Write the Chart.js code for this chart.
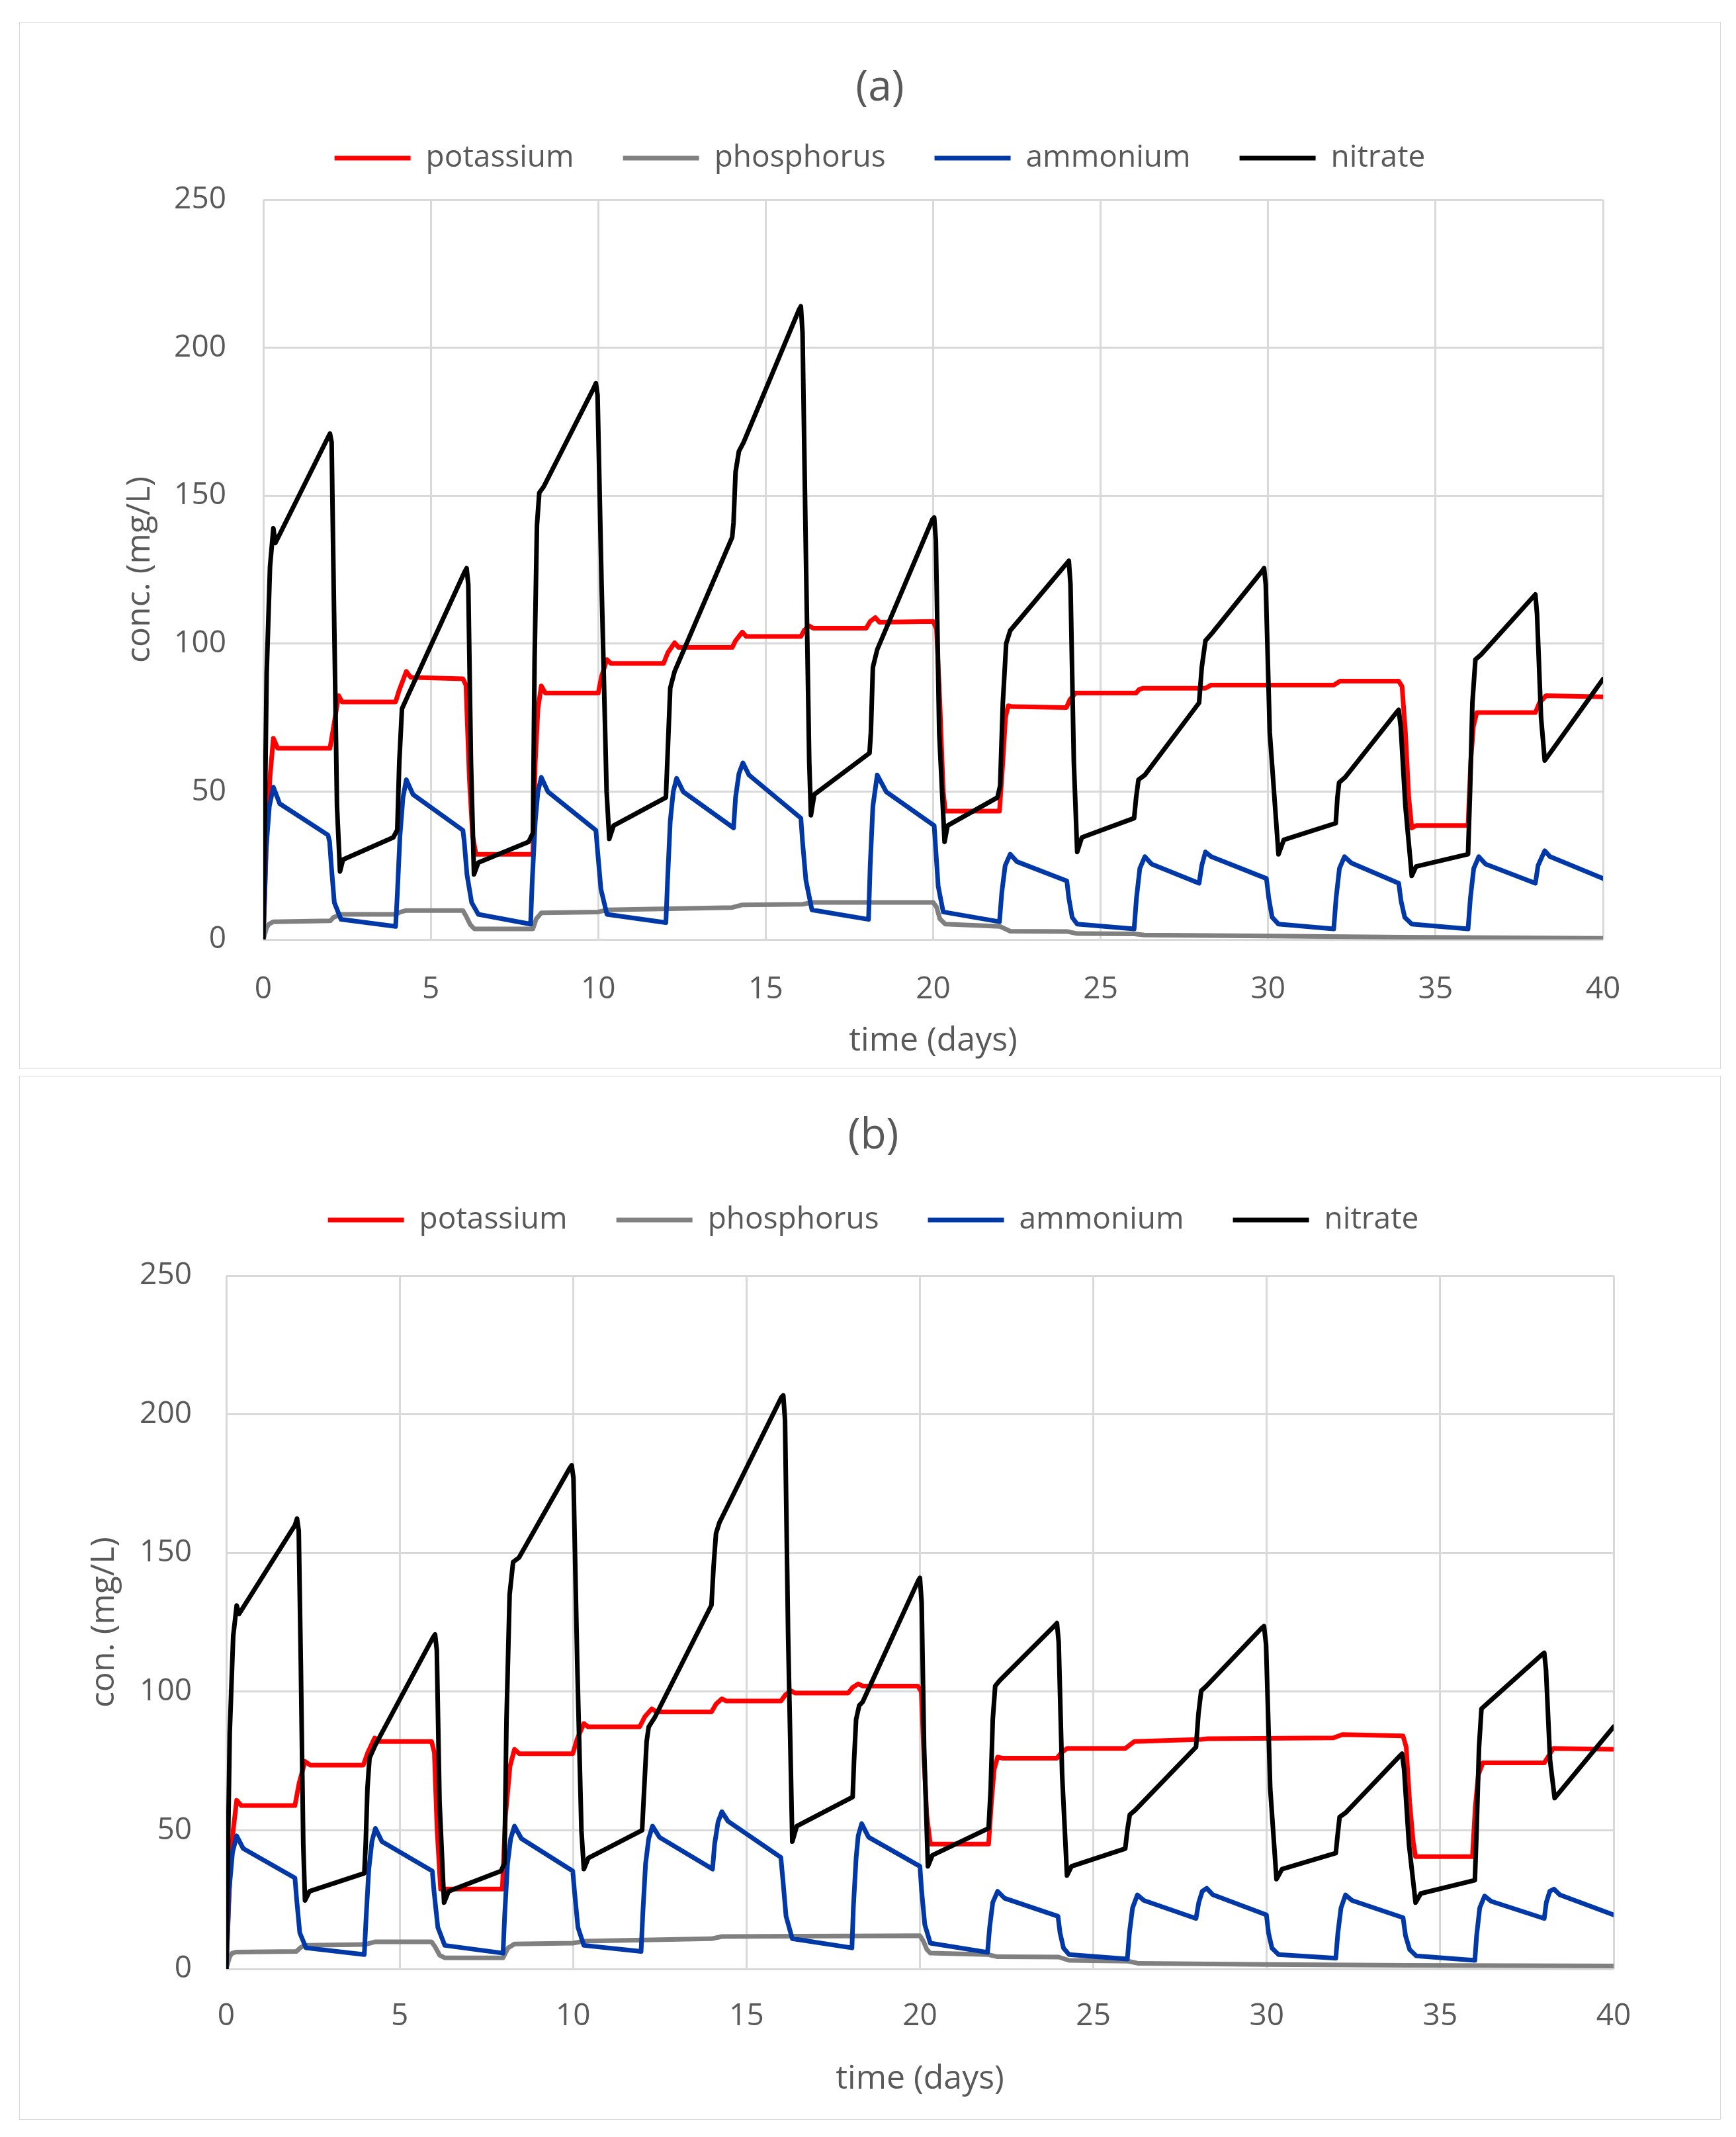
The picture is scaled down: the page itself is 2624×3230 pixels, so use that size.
<!DOCTYPE html>
<html>
<head>
<meta charset="utf-8">
<title>Nutrient concentrations</title>
<script src="https://cdn.jsdelivr.net/npm/chart.js@4.4.1/dist/chart.umd.min.js"></script>
<style>
    body { margin: 0; background: #ffffff; width: 2624px; height: 3230px; position: relative; overflow: hidden; }
    .box { position: absolute; left: 29px; width: 2570px; border: 1px solid #d9d9d9; }
    #boxA { top: 33px; height: 1581px; }
    #boxB { top: 1626px; height: 1576px; }
    canvas { display: block; }
</style>
</head>
<body>
<div class="box" id="boxA"><canvas id="chartA" width="2570" height="1581"></canvas></div>
<div class="box" id="boxB"><canvas id="chartB" width="2570" height="1576"></canvas></div>
<script>
// series labels and axis ticks
const seriesNames = ['potassium', 'phosphorus', 'ammonium', 'nitrate'];
const seriesColors = ['#ff0000', '#808080', '#0038a8', '#000000'];
const xTicks = [0, 5, 10, 15, 20, 25, 30, 35, 40];
const yTicks = [0, 50, 100, 150, 200, 250];

// chart (a): [time (days), conc. (mg/L)]
const potassiumA = [[0,0],[0.1,35],[0.2,55],[0.3,68],[0.43,64.6],[1.99,64.6],[2.1,72],[2.25,82.4],[2.35,80.3],[3.95,80.3],[4.05,84],[4.27,90.6],[4.4,88.6],[5.96,88.1],[6.05,86],[6.15,55],[6.25,35],[6.35,28.8],[8.05,28.8],[8.12,60],[8.2,78],[8.3,85.7],[8.42,83.3],[10.0,83.3],[10.1,89],[10.26,94.6],[10.38,93.3],[11.95,93.3],[12.08,97],[12.28,100.3],[12.4,98.7],[14.0,98.7],[14.1,101],[14.3,103.9],[14.42,102.4],[16.05,102.4],[16.15,104.5],[16.3,106],[16.42,105.2],[18.0,105.2],[18.12,107.5],[18.27,108.8],[18.4,107.2],[20.0,107.5],[20.1,105],[20.2,80],[20.3,50],[20.36,43.4],[21.98,43.4],[22.08,60],[22.16,75],[22.24,79],[22.36,78.7],[23.98,78.4],[24.08,81],[24.25,83.3],[26.06,83.3],[26.15,84.5],[26.26,84.9],[28.13,84.9],[28.3,86],[31.96,86],[32.15,87.3],[33.9,87.3],[34.0,85.5],[34.1,70],[34.2,48],[34.29,37.7],[34.42,38.5],[35.97,38.5],[36.05,60],[36.13,72],[36.23,76.7],[37.98,76.7],[38.1,80],[38.3,82.4],[40,82]];
const phosphorusA = [[0,0],[0.1,4],[0.17,5.2],[0.3,6],[2.0,6.3],[2.1,7.5],[2.32,8.5],[3.95,8.5],[4.1,9.3],[4.27,9.8],[5.96,9.8],[6.05,8],[6.18,5],[6.3,3.6],[8.05,3.6],[8.15,7],[8.3,9],[10.0,9.3],[10.26,10],[14.0,10.8],[14.3,11.7],[16.1,11.9],[16.38,12.5],[20.0,12.5],[20.1,11],[20.2,7],[20.36,5.2],[22.0,4.4],[22.3,2.8],[24.0,2.7],[24.3,2],[26.0,1.9],[26.3,1.5],[30,1.2],[34,0.8],[40,0.4]];
const ammoniumA = [[0,0],[0.08,30],[0.18,45],[0.3,51.5],[0.49,45.9],[1.93,35.3],[1.98,33],[2.03,25],[2.12,12.5],[2.32,6.8],[3.95,4.4],[4.0,15],[4.08,35],[4.17,48],[4.27,54],[4.47,49],[5.96,36.9],[6.0,33],[6.08,22],[6.22,12.5],[6.42,8.5],[7.98,5.2],[8.03,20],[8.12,40],[8.2,50],[8.3,54.8],[8.5,49.9],[9.93,36.9],[9.98,30],[10.08,17],[10.26,8.5],[12.02,5.7],[12.07,20],[12.15,40],[12.24,50],[12.34,54.5],[12.54,49.9],[14.04,37.7],[14.1,48],[14.2,56],[14.32,59.7],[14.5,55.6],[16.05,41],[16.1,33],[16.2,20],[16.38,10],[18.07,6.8],[18.12,25],[18.2,45],[18.33,55.6],[18.6,49.9],[20.03,38.5],[20.08,30],[20.15,18],[20.3,9.3],[21.98,6],[22.05,16],[22.15,25],[22.3,28.8],[22.5,26.3],[23.99,19.8],[24.05,14],[24.15,7.5],[24.3,5.2],[26.0,3.6],[26.07,14],[26.17,24],[26.32,28],[26.52,25.5],[27.94,19],[28.02,25],[28.13,29.6],[28.3,28],[29.95,20.6],[30.02,14],[30.12,7.5],[30.31,5.2],[31.96,3.6],[32.03,14],[32.13,24],[32.28,28],[32.48,25.9],[33.9,19],[33.97,13],[34.08,7.5],[34.29,5.2],[35.97,3.6],[36.04,14],[36.14,24],[36.29,28],[36.49,25.5],[37.98,19],[38.06,25],[38.26,30],[38.42,28],[40,20.6]];
const nitrateA = [[0,0],[0.1,90],[0.2,126],[0.3,139],[0.36,134],[1.9,169],[1.99,171],[2.04,168],[2.1,120],[2.2,45],[2.29,23],[2.38,27],[3.88,34.5],[4.0,37],[4.06,60],[4.14,78],[4.34,83],[6.0,124],[6.07,125.5],[6.12,120],[6.2,60],[6.29,22],[6.42,26],[7.92,33],[8.05,36],[8.1,95],[8.17,140],[8.24,151],[8.37,153],[9.85,186],[9.93,188],[9.98,184],[10.1,120],[10.25,50],[10.33,34],[10.46,38.5],[12.02,48],[12.08,65],[12.15,85],[12.28,90.6],[14.0,136],[14.04,141],[14.1,158],[14.2,165],[14.34,168],[16.0,213],[16.05,214],[16.1,205],[16.2,130],[16.3,60],[16.35,42],[16.45,49],[18.1,63],[18.14,70],[18.2,92],[18.33,98],[19.98,142],[20.03,142.6],[20.08,135],[20.18,70],[20.34,33],[20.43,38.5],[21.92,48],[22.0,52],[22.08,80],[22.18,100],[22.3,104.4],[23.98,127],[24.05,128],[24.1,120],[24.2,60],[24.3,29.6],[24.44,34.5],[26.0,41],[26.06,48],[26.13,54],[26.32,55.6],[27.94,80],[28.02,92],[28.13,101],[28.33,103.6],[29.82,124.5],[29.88,125.5],[29.93,120],[30.05,70],[30.31,28.8],[30.47,33.7],[32.02,39.3],[32.07,48],[32.12,53],[32.3,54.8],[33.85,77],[33.9,77.6],[33.96,72],[34.1,45],[34.29,21.5],[34.42,24.7],[35.97,28.8],[36.03,50],[36.1,80],[36.19,94.6],[36.36,96.3],[37.93,116],[37.98,116.6],[38.03,110],[38.15,75],[38.26,60.5],[40,88]];

// chart (b): [time (days), con. (mg/L)]
const potassiumB = [[0,0],[0.1,32],[0.2,50],[0.3,60.8],[0.43,58.9],[1.98,58.9],[2.1,67],[2.27,74.8],[2.42,73.5],[3.95,73.5],[4.08,78],[4.28,83.3],[4.42,82],[5.92,82],[6.0,78],[6.08,50],[6.18,28.8],[7.96,28.8],[8.05,55],[8.18,73],[8.31,79.2],[8.45,77.6],[9.99,77.6],[10.12,83],[10.31,88.5],[10.43,87.3],[11.92,87.3],[12.07,91],[12.27,93.8],[12.4,92.7],[13.99,92.7],[14.12,95.5],[14.29,97.4],[14.42,96.6],[15.99,96.6],[16.12,98.8],[16.28,100.3],[16.4,99.5],[17.93,99.5],[18.06,101.5],[18.22,102.8],[18.35,102],[19.94,102],[20.04,100],[20.12,75],[20.2,55],[20.3,45],[21.98,45],[22.06,60],[22.14,72],[22.24,76.4],[22.37,76],[23.95,76],[24.08,78],[24.24,79.5],[25.92,79.5],[26.18,82],[28.11,82.8],[28.3,83],[31.92,83.3],[32.18,84.5],[33.93,84],[34.02,80],[34.12,60],[34.22,46],[34.29,40.5],[35.93,40.5],[36.01,58],[36.1,70],[36.23,74.3],[38.0,74.3],[38.26,79.5],[40,79.2]];
const phosphorusB = [[0,0],[0.1,4.5],[0.17,5.7],[0.3,6.1],[2.02,6.3],[2.15,7.8],[2.27,8.5],[4.0,8.8],[4.3,9.8],[5.92,9.8],[6.02,8],[6.15,5],[6.3,4],[7.98,4],[8.12,7.5],[8.31,9],[9.99,9.3],[10.31,10],[13.99,10.9],[14.29,11.7],[20.0,12],[20.1,10],[20.2,7],[20.3,5.7],[21.95,5.2],[22.24,4.4],[24.0,4.3],[24.3,3.1],[26.0,2.8],[26.3,2],[30,1.6],[34,1.3],[40,1.1]];
const ammoniumB = [[0,0],[0.08,28],[0.18,42],[0.3,48],[0.49,43.4],[1.98,32.8],[2.03,25],[2.12,13],[2.3,7.6],[3.98,5.2],[4.03,18],[4.11,36],[4.2,46],[4.3,50.7],[4.49,45.9],[5.94,35.3],[5.99,28],[6.1,15],[6.3,8.5],[7.98,5.7],[8.03,20],[8.11,38],[8.2,47],[8.31,51.5],[8.51,47],[9.99,35.3],[10.04,28],[10.14,15],[10.31,8.5],[11.96,6.3],[12.01,20],[12.09,38],[12.18,47],[12.29,51.5],[12.49,47.5],[14.02,36],[14.08,45],[14.18,53],[14.29,56.7],[14.47,53.2],[15.99,40.2],[16.05,32],[16.14,19],[16.32,10.9],[18.04,7.6],[18.08,22],[18.16,40],[18.22,48],[18.32,52.4],[18.52,47.5],[20.0,37],[20.05,28],[20.14,16],[20.3,9.3],[21.95,6],[22.01,15],[22.1,24],[22.24,28],[22.44,25.5],[23.98,19],[24.04,13],[24.14,7.5],[24.3,5.2],[25.98,3.6],[26.04,13],[26.13,22],[26.27,26.7],[26.46,24.7],[27.96,18.2],[28.04,24],[28.14,28],[28.27,29.1],[28.44,26.8],[29.99,19.5],[30.05,13],[30.15,7.5],[30.34,5.2],[31.99,3.9],[32.05,13],[32.14,22],[32.27,26.7],[32.46,24.7],[33.93,18.5],[34.0,12],[34.12,7],[34.31,4.7],[36.0,3.1],[36.05,12],[36.14,22],[36.28,26.3],[36.47,24.4],[38.0,18.2],[38.06,24],[38.16,28],[38.28,28.8],[38.45,26.7],[40,19.5]];
const nitrateB = [[0,0],[0.1,85],[0.2,120],[0.3,131],[0.37,128],[1.98,160],[2.04,162.4],[2.09,158],[2.15,110],[2.22,45],[2.27,24.7],[2.4,28],[3.98,34.5],[4.02,45],[4.07,65],[4.13,76],[4.3,80.8],[5.96,119.5],[6.02,120.6],[6.07,115],[6.15,60],[6.28,23.9],[6.41,28],[7.92,35.3],[8.02,38],[8.08,90],[8.17,135],[8.27,146.7],[8.44,148.3],[9.9,180.5],[9.96,181.6],[10.01,177],[10.12,110],[10.24,50],[10.31,36],[10.44,40],[11.99,50],[12.05,65],[12.12,82],[12.18,87.3],[12.35,90.6],[13.99,131.2],[14.05,145],[14.12,157],[14.22,161],[14.3,163],[16.0,206],[16.06,206.8],[16.11,198],[16.2,120],[16.32,45.9],[16.45,51.5],[18.06,62],[18.1,75],[18.16,90],[18.25,95],[18.35,96.3],[19.95,140],[20.0,141],[20.05,132],[20.12,80],[20.23,37],[20.36,41],[21.98,50.7],[22.04,65],[22.1,90],[22.17,102],[22.3,104],[23.9,124],[23.95,124.7],[24.0,118],[24.1,70],[24.24,33.7],[24.37,37],[25.92,43.4],[25.98,50],[26.05,55.6],[26.2,57.2],[27.96,80],[28.03,92],[28.11,100.3],[28.26,102],[29.86,123],[29.92,123.6],[29.98,117],[30.1,65],[30.28,32.4],[30.44,36],[31.99,41.8],[32.04,48],[32.1,54.8],[32.28,56.4],[33.85,77],[33.9,77.6],[33.96,72],[34.1,45],[34.29,23.9],[34.44,27.2],[36.0,32],[36.05,50],[36.12,80],[36.19,93.8],[36.33,95.4],[37.95,113.5],[38.0,114],[38.05,108],[38.17,75],[38.3,61.6],[40,87.3]];

const textColor = '#595959';
const gridColor = '#d9d9d9';
const fontFamily = "'Open Sans', 'Noto Sans', sans-serif";

// leaves some room between the legend and the plot
const legendGap = {
    id: 'legendGap',
    beforeLayout(chart, args, opts) {
        const legend = chart.legend;
        if (legend && !legend._gapPatched) {
            const fit = legend.fit;
            legend.fit = function () {
                fit.call(this);
                this.height += opts.gap;
            };
            legend._gapPatched = true;
        }
    }
};

// Function to build one of the two panels
function makeChart(canvasId, titleText, yTitleText, series, box) {
    const ctx = document.getElementById(canvasId).getContext('2d');

    const datasets = series.map((points, i) => ({
        label: seriesNames[i],
        data: points.map(p => ({ x: p[0], y: p[1] })),
        borderColor: seriesColors[i],
        backgroundColor: seriesColors[i],
        borderWidth: 7,
        borderJoinStyle: 'round',
        borderCapStyle: 'round',
        pointRadius: 0,
        tension: 0,
        fill: false,
        order: series.length - i
    }));

    return new Chart(ctx, {
        type: 'line',
        data: { datasets: datasets },
        plugins: [legendGap],
        options: {
            responsive: false,
            animation: false,
            devicePixelRatio: 1,
            layout: { padding: { left: box.padLeft, top: 0, right: box.padRight, bottom: 0 } },
            plugins: {
                legendGap: { gap: box.legendGap },
                title: {
                    display: true,
                    text: titleText,
                    color: textColor,
                    font: { family: fontFamily, size: 64, weight: 'normal' },
                    padding: { top: box.titleTop, bottom: box.titleBottom }
                },
                legend: {
                    display: true,
                    position: 'top',
                    labels: {
                        usePointStyle: true,
                        pointStyle: 'line',
                        pointStyleWidth: 115,
                        padding: 74,
                        color: textColor,
                        font: { family: fontFamily, size: 46 },
                        sort: (a, b) => a.datasetIndex - b.datasetIndex
                    }
                },
                tooltip: { enabled: false }
            },
            scales: {
                x: {
                    type: 'linear',
                    min: xTicks[0],
                    max: xTicks[xTicks.length - 1],
                    afterBuildTicks: scale => { scale.ticks = xTicks.map(v => ({ value: v })); },
                    afterFit: scale => { scale.height = box.xHeight; },
                    ticks: {
                        color: textColor,
                        font: { family: fontFamily, size: 46 },
                        padding: box.xTickPad,
                        maxRotation: 0,
                        autoSkip: false
                    },
                    grid: { color: gridColor, lineWidth: 3, drawTicks: false },
                    border: { display: false },
                    title: {
                        display: true,
                        text: 'time (days)',
                        color: textColor,
                        font: { family: fontFamily, size: 50 },
                        padding: { top: 0, bottom: box.xTitleBottom }
                    }
                },
                y: {
                    type: 'linear',
                    min: yTicks[0],
                    max: yTicks[yTicks.length - 1],
                    afterBuildTicks: scale => { scale.ticks = yTicks.map(v => ({ value: v })); },
                    afterFit: scale => { scale.width = box.yWidth; },
                    ticks: {
                        color: textColor,
                        font: { family: fontFamily, size: 46 },
                        padding: box.yTickPad
                    },
                    grid: { color: gridColor, lineWidth: 3, drawTicks: false },
                    border: { display: false },
                    title: {
                        display: true,
                        text: yTitleText,
                        color: textColor,
                        font: { family: fontFamily, size: 50 },
                        padding: { top: box.yTitleTop, bottom: 0 }
                    }
                }
            }
        }
    });
}

// left padding keeps title and legend centred on the panel, not on the plot
makeChart('chartA', '(a)', 'conc. (mg/L)', [potassiumA, phosphorusA, ammoniumA, nitrateA], {
    padLeft: 207, padRight: 177, yWidth: 161, xHeight: 195,
    titleTop: 61.6, titleBottom: -30.4, legendGap: 30,
    yTitleTop: -55, xTitleBottom: 11, yTickPad: 56, xTickPad: 48
});

makeChart('chartB', '(b)', 'con. (mg/L)', [potassiumB, phosphorusB, ammoniumB, nitrateB], {
    padLeft: 171, padRight: 161, yWidth: 141, xHeight: 227,
    titleTop: 52.6, titleBottom: -9.4, legendGap: 51,
    yTitleTop: -73, xTitleBottom: 30, yTickPad: 52, xTickPad: 44
});
</script>
</body>
</html>
